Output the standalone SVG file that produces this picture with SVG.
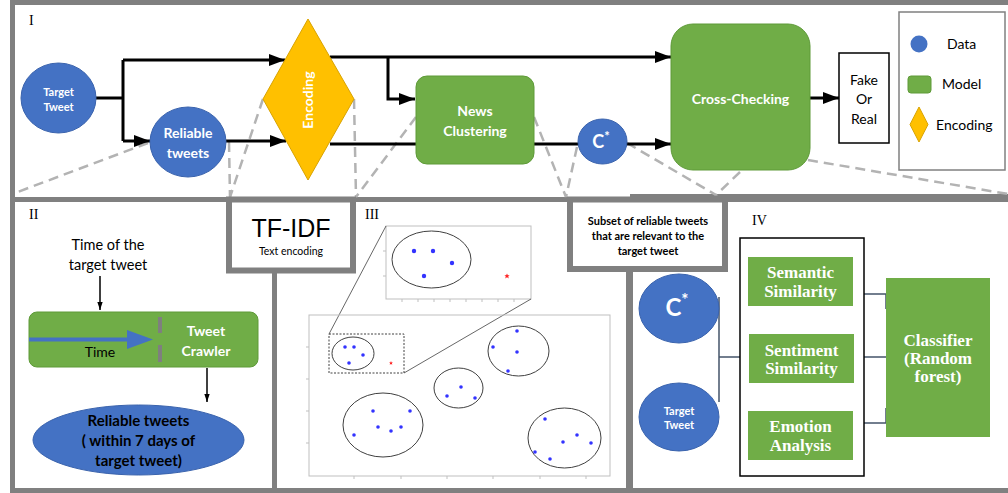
<svg xmlns="http://www.w3.org/2000/svg" width="1008" height="493" viewBox="0 0 1008 493">
<style>
.panel{fill:#808080}
.lbl{font-family:"Liberation Serif",serif;font-size:14px;fill:#000}
.wb{font-family:Lato,"Liberation Sans",sans-serif;font-weight:bold;fill:#fff;text-anchor:middle}
.bk{font-family:Lato,"Liberation Sans",sans-serif;fill:#000;text-anchor:middle}
.bks{font-family:Lato,"Liberation Sans",sans-serif;fill:#000;text-anchor:start;font-size:14px}
.sf{font-family:"Liberation Serif",serif;font-weight:bold;fill:#fff;text-anchor:middle;font-size:17px}
.blue{fill:#4472c4;stroke:#3a63ad;stroke-width:1}
.green{fill:#70ad47;stroke:#5e9a38;stroke-width:1}
.conn{stroke:#000;stroke-width:3;fill:none}
.thin{stroke:#000;stroke-width:1.5;fill:none}
.dash{stroke:#b3b3b3;stroke-width:2.5;fill:none;stroke-dasharray:10,6}
.frame{fill:none;stroke:#bfbfbf;stroke-width:1}
.tick{stroke:#bfbfbf;stroke-width:1}
.ell{fill:none;stroke:#404040;stroke-width:1}
.dot{fill:#3333ff}
.star{fill:#ff2020}
.iv{stroke:#44546a;stroke-width:1.5;fill:none}
</style>
<defs>
<marker id="ah" markerUnits="userSpaceOnUse" markerWidth="16" markerHeight="12" refX="16" refY="6" orient="auto"><path d="M0,0 L16,6 L0,12 z" fill="#000"/></marker>
<marker id="ahs" markerUnits="userSpaceOnUse" markerWidth="8" markerHeight="12" refX="12" refY="4" orient="auto" viewBox="0 0 12 8"><path d="M0,0 L12,4 L0,8 z" fill="#000"/></marker>
</defs>
<rect width="1008" height="493" fill="#fff"/>

<!-- panel frames -->
<g id="frames">
<rect class="panel" x="10" y="0" width="998" height="5"/>
<rect class="panel" x="10" y="0" width="5" height="493"/>
<rect class="panel" x="10" y="197" width="620" height="5"/>
<rect class="panel" x="630" y="194" width="378" height="8"/>
<rect class="panel" x="10" y="488" width="998" height="5"/>
<rect class="panel" x="272" y="270" width="5" height="220"/>
<rect class="panel" x="626" y="270" width="7" height="220"/>
<text class="lbl" x="29" y="25">I</text>
<text class="lbl" x="29" y="219">II</text>
<text class="lbl" x="365" y="219">III</text>
<text class="lbl" x="752" y="225">IV</text>
</g>

<!-- dashed zoom lines -->
<g id="zoomlines">
<path class="dash" d="M148,143 L15,193"/>
<path class="dash" d="M229,142 L230,197"/>
<path class="dash" d="M263,99 L230,197"/>
<path class="dash" d="M354,99 L356,197"/>
<path class="dash" d="M416,117 L356,197"/>
<path class="dash" d="M534,117 L566,197"/>
<path class="dash" d="M577,147 L566,197"/>
<path class="dash" d="M627,143 L716,195"/>
<path class="dash" d="M740,172 L716,195"/>
<path class="dash" d="M808,160 L1008,194"/>
</g>

<!-- connectors -->
<g id="connectors">
<path class="conn" d="M96,98 H123"/>
<path class="conn" d="M123,60 V141"/>
<path class="conn" d="M123,60 H285" marker-end="url(#ah)"/>
<path class="conn" d="M123,141 H150" marker-end="url(#ah)"/>
<path class="conn" d="M226,141 H286" marker-end="url(#ah)"/>
<path class="conn" d="M330,57 H671" marker-end="url(#ah)"/>
<path class="conn" d="M388,57 V99 H415" marker-end="url(#ah)"/>
<path class="conn" d="M330,144 H671" marker-end="url(#ah)"/>
<path class="conn" d="M810,98 H839" marker-end="url(#ah)"/>
<path class="thin" d="M100,276 V310" marker-end="url(#ahs)"/>
<path class="thin" d="M207,368 V402" marker-end="url(#ahs)"/>
<path class="iv" d="M719,297 V402 M719,357 H740"/>
<path class="iv" d="M864,294 H886 V309 M864,357 H886 M864,423 H886 V408"/>
</g>

<!-- Panel I nodes -->
<g id="target-tweet">
<ellipse class="blue" cx="58.5" cy="98" rx="37.5" ry="35"/>
<text class="wb" font-size="11" x="58.5" y="96">Target</text>
<text class="wb" font-size="11" x="58.5" y="111">Tweet</text>
</g>
<g id="reliable-tweets">
<ellipse class="blue" cx="188" cy="142" rx="38" ry="35"/>
<text class="wb" font-size="14" x="188" y="138">Reliable</text>
<text class="wb" font-size="14" x="188" y="158">tweets</text>
</g>
<g id="encoding">
<polygon points="308,19 354,99 308,180 263,99" fill="#ffc000" stroke="#d9a300" stroke-width="1"/>
<text class="wb" font-size="14" transform="translate(313,100) rotate(-90)" x="0" y="0">Encoding</text>
</g>
<g id="news-clustering">
<rect class="green" x="416" y="76" width="118" height="88" rx="11"/>
<text class="wb" font-size="14" x="475" y="116">News</text>
<text class="wb" font-size="14" x="475" y="136">Clustering</text>
</g>
<g id="c-star">
<ellipse class="blue" cx="602.5" cy="141.5" rx="24.5" ry="22.5"/>
<text class="wb" font-size="18" x="601" y="148">C<tspan font-size="13" dy="-7">*</tspan></text>
</g>
<g id="cross-checking">
<rect class="green" x="671" y="24" width="139" height="146" rx="22"/>
<text class="wb" font-size="14" x="740.5" y="104">Cross-Checking</text>
</g>
<g id="fake-or-real">
<rect x="839" y="53" width="50" height="90" fill="#fff" stroke="#000" stroke-width="1.5"/>
<text class="bk" font-size="14" x="864" y="85">Fake</text>
<text class="bk" font-size="14" x="864" y="104">Or</text>
<text class="bk" font-size="14" x="864" y="124">Real</text>
</g>
<g id="legend">
<rect x="899" y="12" width="106" height="158" fill="#fff" stroke="#808080" stroke-width="1.5"/>
<circle cx="919" cy="44" r="8.5" fill="#4472c4"/>
<text class="bks" x="947" y="49">Data</text>
<rect class="green" x="908" y="76" width="23" height="17" rx="3"/>
<text class="bks" x="942" y="89">Model</text>
<polygon points="919,107 928,124.5 919,142 910,124.5" fill="#ffc000" stroke="#d9a300" stroke-width="1"/>
<text class="bks" x="936" y="130">Encoding</text>
</g>

<!-- boxes on dividers -->
<g id="tfidf">
<rect x="229" y="199.5" width="124" height="71" fill="#fff" stroke="#808080" stroke-width="6"/>
<text x="291" y="237" font-family="'Liberation Sans',Arial,sans-serif" font-size="25" text-anchor="middle" fill="#000">TF-IDF</text>
<text class="bk" font-size="10.5" x="291" y="255">Text encoding</text>
</g>
<g id="subset">
<rect x="570" y="199.5" width="155" height="69.5" fill="#fff" stroke="#808080" stroke-width="6"/>
<text class="bk" font-weight="bold" font-size="11" x="648" y="225">Subset of reliable tweets</text>
<text class="bk" font-weight="bold" font-size="11" x="648" y="240">that are relevant to the</text>
<text class="bk" font-weight="bold" font-size="11" x="648" y="255">target tweet</text>
</g>

<!-- Panel II -->
<g id="time-label">
<text class="bk" font-size="14.5" x="108" y="250">Time of the</text>
<text class="bk" font-size="14.5" x="108" y="270">target tweet</text>
</g>
<g id="tweet-crawler">
<rect class="green" x="29" y="312" width="229" height="55" rx="8"/>
<line x1="29" y1="339.5" x2="130" y2="339.5" stroke="#4472c4" stroke-width="4"/>
<polygon points="127,330 153,339.5 127,349" fill="#4472c4"/>
<line x1="160" y1="317" x2="160" y2="333" stroke="#7f7f7f" stroke-width="4"/>
<line x1="160" y1="345" x2="160" y2="362" stroke="#7f7f7f" stroke-width="4"/>
<text class="bk" font-size="14" x="100" y="357">Time</text>
<text class="wb" font-size="14" x="206" y="336">Tweet</text>
<text class="wb" font-size="14" x="206" y="356">Crawler</text>
</g>
<g id="reliable-7days">
<ellipse class="blue" cx="138.5" cy="440" rx="105.5" ry="35"/>
<text class="bk" font-weight="bold" font-size="15" x="138.5" y="426">Reliable tweets</text>
<text class="bk" font-weight="bold" font-size="15" x="138.5" y="446">( within 7 days of</text>
<text class="bk" font-weight="bold" font-size="15" x="138.5" y="466">target tweet)</text>
</g>

<!-- Panel III -->
<g id="clusters">
<rect class="frame" x="386" y="226" width="145" height="73"/>
<path class="tick" d="M383,251 H386 M383,276 H386 M402,299 V302 M418,299 V302 M434,299 V302 M450,299 V302 M466,299 V302 M482,299 V302 M498,299 V302 M514,299 V302"/>
<ellipse class="ell" cx="431.5" cy="259.5" rx="39.5" ry="28.5"/>
<circle class="dot" cx="414" cy="251" r="2.2"/>
<circle class="dot" cx="433" cy="251" r="2.2"/>
<circle class="dot" cx="452" cy="263" r="2.2"/>
<circle class="dot" cx="424" cy="276" r="2.2"/>
<polygon class="star" points="507,273.5 507.8,275.3 509.6,275.3 508.2,276.5 508.8,278.4 507,277.3 505.2,278.4 505.8,276.5 504.4,275.3 506.2,275.3"/>
<line x1="386" y1="226" x2="329" y2="334" stroke="#404040" stroke-width="0.8"/>
<line x1="531" y1="299" x2="404" y2="373" stroke="#404040" stroke-width="0.8"/>
<rect class="frame" x="309" y="315" width="301" height="161"/>
<path class="tick" d="M306,347 H309 M306,379 H309 M306,411 H309 M306,443 H309 M354,476 V479 M401,476 V479 M447,476 V479 M493,476 V479 M540,476 V479 M586,476 V479"/>
<rect x="329" y="334" width="75" height="39" fill="none" stroke="#404040" stroke-width="1" stroke-dasharray="2,1.5"/>
<ellipse class="ell" cx="353" cy="353.5" rx="21" ry="16.5"/>
<circle class="dot" cx="345" cy="347" r="1.8"/>
<circle class="dot" cx="354" cy="347" r="1.8"/>
<circle class="dot" cx="363" cy="355" r="1.8"/>
<circle class="dot" cx="349" cy="363" r="1.8"/>
<polygon class="star" points="391,361 391.6,362.4 393,362.4 391.9,363.3 392.3,364.7 391,363.9 389.7,364.7 390.1,363.3 389,362.4 390.4,362.4"/>
<ellipse class="ell" cx="518.5" cy="351" rx="30.5" ry="25"/>
<circle class="dot" cx="517" cy="331" r="1.8"/>
<circle class="dot" cx="493" cy="347" r="1.8"/>
<circle class="dot" cx="517" cy="352" r="1.8"/>
<circle class="dot" cx="508" cy="371" r="1.8"/>
<ellipse class="ell" cx="458.5" cy="388" rx="24.5" ry="20"/>
<circle class="dot" cx="461" cy="387" r="1.8"/>
<circle class="dot" cx="447" cy="396" r="1.8"/>
<circle class="dot" cx="475" cy="398" r="1.8"/>
<ellipse class="ell" cx="383" cy="425" rx="40" ry="32"/>
<circle class="dot" cx="373" cy="411" r="1.8"/>
<circle class="dot" cx="410" cy="411" r="1.8"/>
<circle class="dot" cx="354" cy="435" r="1.8"/>
<circle class="dot" cx="378" cy="427" r="1.8"/>
<circle class="dot" cx="391" cy="431" r="1.8"/>
<circle class="dot" cx="401" cy="427" r="1.8"/>
<ellipse class="ell" cx="564.5" cy="438" rx="36.5" ry="30"/>
<circle class="dot" cx="545" cy="419" r="1.8"/>
<circle class="dot" cx="577" cy="435" r="1.8"/>
<circle class="dot" cx="563" cy="442" r="1.8"/>
<circle class="dot" cx="591" cy="443" r="1.8"/>
<circle class="dot" cx="535" cy="452" r="1.8"/>
<circle class="dot" cx="550" cy="459" r="1.8"/>
</g>

<!-- Panel IV -->
<g id="c-star-iv">
<ellipse class="blue" cx="679" cy="308.5" rx="40" ry="34.5"/>
<text class="wb" font-size="24" x="677" y="316">C<tspan font-size="17" dy="-10">*</tspan></text>
</g>
<g id="target-tweet-iv">
<ellipse class="blue" cx="679" cy="417" rx="40" ry="34"/>
<text class="wb" font-size="11" x="679" y="415">Target</text>
<text class="wb" font-size="11" x="679" y="429">Tweet</text>
</g>
<g id="features">
<rect x="740" y="238" width="124" height="238" fill="#fff" stroke="#000" stroke-width="1.5"/>
</g>
<g id="semantic">
<rect x="748" y="257" width="105" height="49" fill="#70ad47"/>
<text class="sf" x="800.5" y="278">Semantic</text>
<text class="sf" x="800.5" y="297">Similarity</text>
</g>
<g id="sentiment">
<rect x="749" y="334" width="105" height="49" fill="#70ad47"/>
<text class="sf" x="801.5" y="356">Sentiment</text>
<text class="sf" x="801.5" y="374">Similarity</text>
</g>
<g id="emotion">
<rect x="748" y="411" width="105" height="49" fill="#70ad47"/>
<text class="sf" x="800.5" y="432">Emotion</text>
<text class="sf" x="800.5" y="451">Analysis</text>
</g>
<g id="classifier">
<rect x="886" y="278" width="104" height="159" fill="#70ad47"/>
<text class="sf" x="938" y="346">Classifier</text>
<text class="sf" x="938" y="364">(Random</text>
<text class="sf" x="938" y="382">forest)</text>
</g>
</svg>
